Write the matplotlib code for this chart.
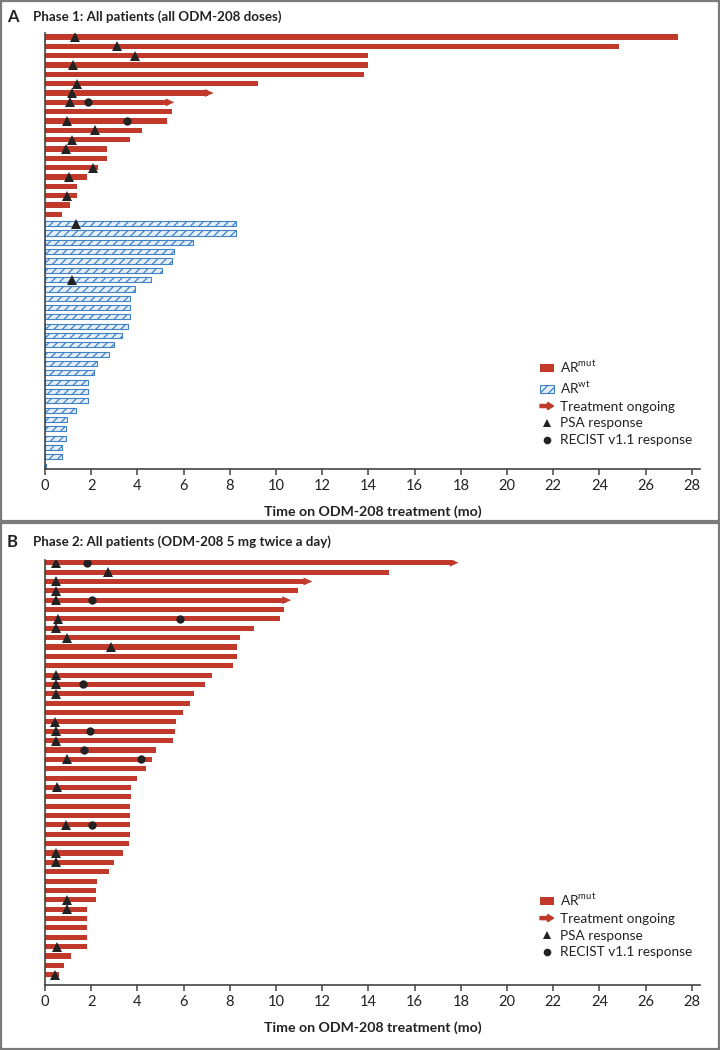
import matplotlib
matplotlib.use("Agg")
from matplotlib import pyplot as plt
from matplotlib.patches import Patch, Polygon, FancyArrow, Rectangle
from matplotlib.lines import Line2D
from matplotlib.legend_handler import HandlerPatch

plt.rcParams["font.family"] = ["Lato", "DejaVu Sans"]
plt.rcParams["mathtext.fontset"] = "custom"
plt.rcParams["mathtext.rm"] = "Lato"
plt.rcParams["hatch.linewidth"] = 0.9

RED = "#c0392b"
BLUE = "#3f82c8"
DARK = "#222222"

# ---- Phase 1 data (rows top to bottom) ----
a_mut_months = [27.4, 24.85, 14.0, 14.0, 13.8, 9.2, 7.3, 5.6, 5.5, 5.3,
                4.2, 3.7, 2.7, 2.7, 2.3, 1.8, 1.4, 1.4, 1.1, 0.75]
a_mut_ongoing = [7, 8]
a_wt_months = [8.27, 8.27, 6.4, 5.6, 5.5, 5.05, 4.6, 3.88, 3.7, 3.7,
               3.7, 3.6, 3.32, 3.0, 2.77, 2.24, 2.1, 1.85, 1.87, 1.87,
               1.34, 0.94, 0.9, 0.9, 0.72, 0.72, 0.05]
a_psa_rows = [1, 2, 3, 4, 6, 7, 8, 10, 11, 12, 13, 15, 16, 18, 21, 27]
a_psa_time = [1.3, 3.1, 3.9, 1.2, 1.4, 1.15, 1.1, 0.95, 2.15, 1.15, 0.93,
              2.07, 1.05, 0.96, 1.34, 1.15]
a_recist_rows = [8, 10]
a_recist_time = [1.85, 3.55]

# ---- Phase 2 data ----
b_mut_months = [17.9, 14.9, 11.57, 10.94, 10.65, 10.36, 10.17, 9.05, 8.44, 8.33,
                8.31, 8.12, 7.24, 6.93, 6.45, 6.28, 5.99, 5.66, 5.64, 5.53,
                4.81, 4.62, 4.37, 3.97, 3.74, 3.74, 3.68, 3.67, 3.67, 3.68,
                3.64, 3.36, 2.99, 2.78, 2.25, 2.21, 2.21, 1.83, 1.83, 1.83,
                1.8, 1.8, 1.13, 0.84, 0.62]
b_mut_ongoing = [1, 3, 5]
b_psa_rows = [1, 2, 3, 4, 5, 7, 8, 9, 10, 13, 14, 15, 18, 19, 20, 22, 25,
              29, 32, 33, 37, 38, 42, 45]
b_psa_time = [0.46, 2.74, 0.46, 0.46, 0.46, 0.55, 0.46, 0.97, 2.87, 0.46,
              0.46, 0.49, 0.43, 0.46, 0.46, 0.94, 0.5, 0.91, 0.49, 0.49,
              0.94, 0.94, 0.52, 0.45]
b_recist_rows = [1, 5, 7, 14, 19, 21, 22, 29]
b_recist_time = [1.83, 2.05, 5.83, 1.66, 1.95, 1.69, 4.14, 2.05]

xticks = list(range(0, 29, 2))
BAR_H = 0.55
HEAD_L = 0.38
HEAD_W = 0.42


def draw_arrow(legend, orig_handle, xdescent, ydescent, width, height, fontsize):
    return FancyArrow(-xdescent, height / 2 - ydescent, width, 0,
                      width=height * 0.4, head_width=height * 0.95,
                      head_length=width * 0.45, length_includes_head=True,
                      color=RED, lw=0)


def swimmer(ax, mut, ongoing, wt, psa_r, psa_t, rec_r, rec_t, nrows, top):
    rows = list(range(1, len(mut) + 1))
    lengths = [m - HEAD_L * 0.6 if r in ongoing else m for r, m in zip(rows, mut)]
    ax.barh(rows, lengths, height=BAR_H, color=RED, lw=0)
    for r in ongoing:
        end = mut[r - 1]
        ax.add_patch(Polygon([(end - HEAD_L, r - HEAD_W), (end, r),
                              (end - HEAD_L, r + HEAD_W)], closed=True,
                             color=RED, lw=0))
    if wt:
        wrows = list(range(len(mut) + 1, len(mut) + len(wt) + 1))
        ax.barh(wrows, wt, height=BAR_H, facecolor="#e6eff8", edgecolor=BLUE,
                hatch="////", lw=0.8)
    ax.plot(psa_t, psa_r, "^", color=DARK, ms=6.5, mew=0, zorder=5)
    ax.plot(rec_t, rec_r, "o", color=DARK, ms=6.0, mew=0, zorder=5)
    ax.set_xlim(0, 28.35)
    ax.set_ylim(nrows, top)
    ax.set_xticks(xticks)
    ax.set_yticks([])
    for s in ["top", "right"]:
        ax.spines[s].set_visible(False)
    for s in ["left", "bottom"]:
        ax.spines[s].set_color("#444444")
        ax.spines[s].set_linewidth(1.2)
    ax.tick_params(axis="x", direction="out", length=4, width=1.1,
                   color="#444444", labelsize=10.5, labelcolor=DARK, pad=3)
    ax.set_xlabel("Time on ODM-208 treatment (mo)", fontsize=10.2,
                  fontweight="bold", color=DARK, labelpad=9)


fig = plt.figure(figsize=(7.2, 10.5), dpi=100)

axA = fig.add_axes([45 / 720, 1 - 469.3 / 1050, 655 / 720, 436.3 / 1050])
swimmer(axA, a_mut_months, a_mut_ongoing, a_wt_months, a_psa_rows, a_psa_time,
        a_recist_rows, a_recist_time, 47.33, 0.57)

axB = fig.add_axes([45 / 720, 1 - 985.3 / 1050, 655 / 720, 425.3 / 1050])
swimmer(axB, b_mut_months, b_mut_ongoing, [], b_psa_rows, b_psa_time,
        b_recist_rows, b_recist_time, 46.13, 0.71)

h_mut = Patch(facecolor=RED, lw=0)
h_wt = Patch(facecolor="#e6eff8", edgecolor=BLUE, hatch="////", lw=0.8)
h_ong = FancyArrow(0, 0, 1, 0, color=RED)
h_psa = Line2D([], [], ls="", marker="^", color=DARK, ms=5.5, mew=0)
h_rec = Line2D([], [], ls="", marker="o", color=DARK, ms=5.5, mew=0)
hmap = {FancyArrow: HandlerPatch(patch_func=draw_arrow)}

fig.legend([h_mut, h_wt, h_ong, h_psa, h_rec],
           ["AR$^{\\mathrm{mut}}$", "AR$^{\\mathrm{wt}}$", "Treatment ongoing",
            "PSA response", "RECIST v1.1 response"],
           loc="upper left", bbox_to_anchor=(540 / 720, 1 - 359 / 1050),
           frameon=False, fontsize=9.8, handlelength=1.0, handleheight=0.5,
           handletextpad=0.45, labelspacing=0.34, borderpad=0, borderaxespad=0,
           handler_map=hmap, labelcolor=DARK)
fig.legend([h_mut, h_ong, h_psa, h_rec],
           ["AR$^{\\mathrm{mut}}$", "Treatment ongoing", "PSA response",
            "RECIST v1.1 response"],
           loc="upper left", bbox_to_anchor=(540 / 720, 1 - 892 / 1050),
           frameon=False, fontsize=9.8, handlelength=1.0, handleheight=0.5,
           handletextpad=0.45, labelspacing=0.34, borderpad=0, borderaxespad=0,
           handler_map=hmap, labelcolor=DARK)

# panel titles
fig.text(7 / 720, 1 - 17 / 1050, "A", fontsize=12, fontweight="bold",
         color=DARK, va="center")
fig.text(33 / 720, 1 - 17 / 1050, "Phase 1: All patients (all ODM-208 doses)",
         fontsize=9.6, fontweight="bold", color=DARK, va="center")
fig.text(7 / 720, 1 - 542 / 1050, "B", fontsize=12, fontweight="bold",
         color=DARK, va="center")
fig.text(33 / 720, 1 - 542 / 1050, "Phase 2: All patients (ODM-208 5 mg twice a day)",
         fontsize=9.6, fontweight="bold", color=DARK, va="center")

# panel frames
for y0, y1 in [(1, 521.5), (522.5, 1049)]:
    fig.add_artist(Rectangle((1 / 720, 1 - y1 / 1050), 718 / 720, (y1 - y0) / 1050,
                             transform=fig.transFigure, fill=False,
                             edgecolor="#7a7a7a", lw=1.6))

fig.savefig("out.png", dpi=100)
